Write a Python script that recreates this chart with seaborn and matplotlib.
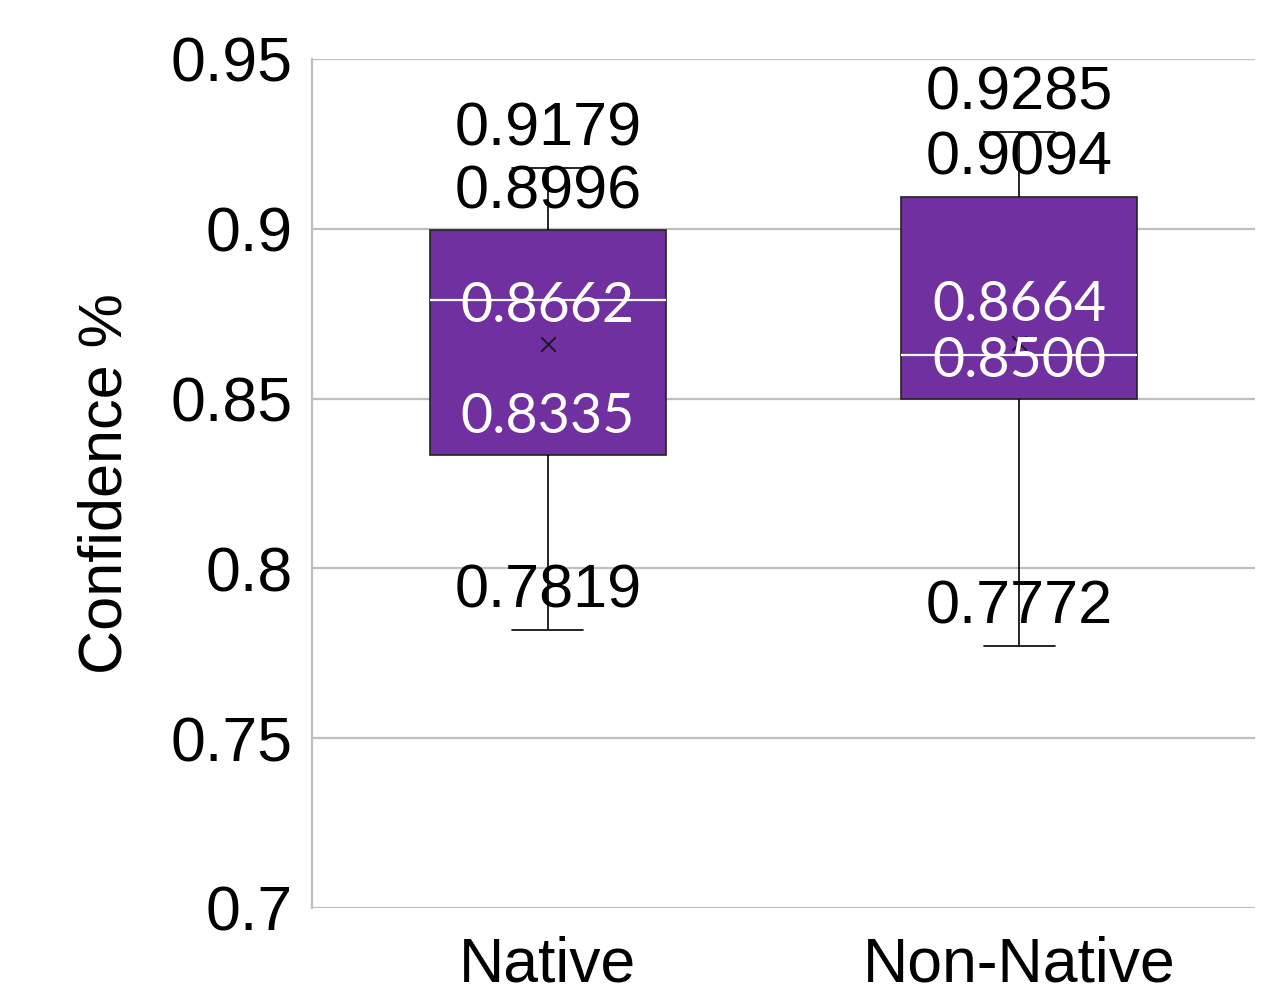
import matplotlib
matplotlib.use("Agg")
import matplotlib.pyplot as plt
import seaborn as sns
import pandas as pd
import numpy as np

categories = ["Native", "Non-Native"]
mins = [0.7819, 0.7772]
q1s = [0.8335, 0.8500]
medians = [0.8791, 0.8628]
q3s = [0.8996, 0.9094]
maxs = [0.9179, 0.9285]
means = [0.8662, 0.8664]
yticks = [0.7, 0.75, 0.8, 0.85, 0.9, 0.95]
ytick_labels = ["0.7", "0.75", "0.8", "0.85", "0.9", "0.95"]

sns.set_theme(style="white")
plt.rcParams["font.family"] = ["Liberation Sans", "DejaVu Sans"]

# five-number data per group -> exact quartiles with whis=(0, 100)
rows = []
for c, a, b, m, d, e in zip(categories, mins, q1s, medians, q3s, maxs):
    for v in (a, b, m, d, e):
        rows.append({"group": c, "value": v})
df = pd.DataFrame(rows)

fig = plt.figure(figsize=(12.83, 9.98), dpi=100)
ax = fig.add_axes([0.2432, 0.0902, 0.7350, 0.8507])

purple = "#7030A0"
sns.boxplot(data=df, x="group", y="value", order=categories, ax=ax,
            whis=(0, 100), width=0.5, color=purple, saturation=1,
            linewidth=1.2, linecolor="#1a1a1a",
            boxprops=dict(facecolor=purple, edgecolor="#222222", linewidth=1.2),
            medianprops=dict(color="white", linewidth=1.6),
            whiskerprops=dict(color="black", linewidth=1.2),
            capprops=dict(color="black", linewidth=1.2),
            capwidths=0.15, zorder=3)

# mean markers
ax.scatter(np.arange(len(categories)), means, marker="x", color="#1a1a1a",
           s=110, linewidths=1.4, zorder=5)

# data labels (above each value)
off = 27  # points
lbl_kw = dict(textcoords="offset points", ha="center", va="center", zorder=6)
for i in range(len(categories)):
    for v in (maxs[i], q3s[i], mins[i]):
        ax.annotate(f"{v:.4f}", (i, v), xytext=(0, off), fontsize=44,
                    color="black", **lbl_kw)
    for v in (means[i], q1s[i]):
        ax.annotate(f"{v:.4f}", (i, v), xytext=(0, off), fontsize=40,
                    color="white", family=["Lato", "DejaVu Sans"], **lbl_kw)

ax.set_ylim(0.7, 0.95)
ax.set_xlim(-0.5, 1.5)
ax.set_yticks(yticks)
ax.set_yticklabels(ytick_labels)
ax.yaxis.grid(True, color="#BFBFBF", linewidth=1.6, zorder=0)
ax.set_axisbelow(True)
for s in ["top", "right", "bottom"]:
    ax.spines[s].set_visible(False)
ax.spines["left"].set_color("#BFBFBF")
ax.spines["left"].set_linewidth(1.6)
ax.tick_params(axis="both", length=0, labelsize=45, colors="black")
ax.tick_params(axis="y", pad=14)
ax.tick_params(axis="x", pad=20)
ax.set_xlabel("")
ax.set_ylabel("Confidence %", fontsize=44, labelpad=26, color="black")

fig.savefig("out.png", dpi=100)
